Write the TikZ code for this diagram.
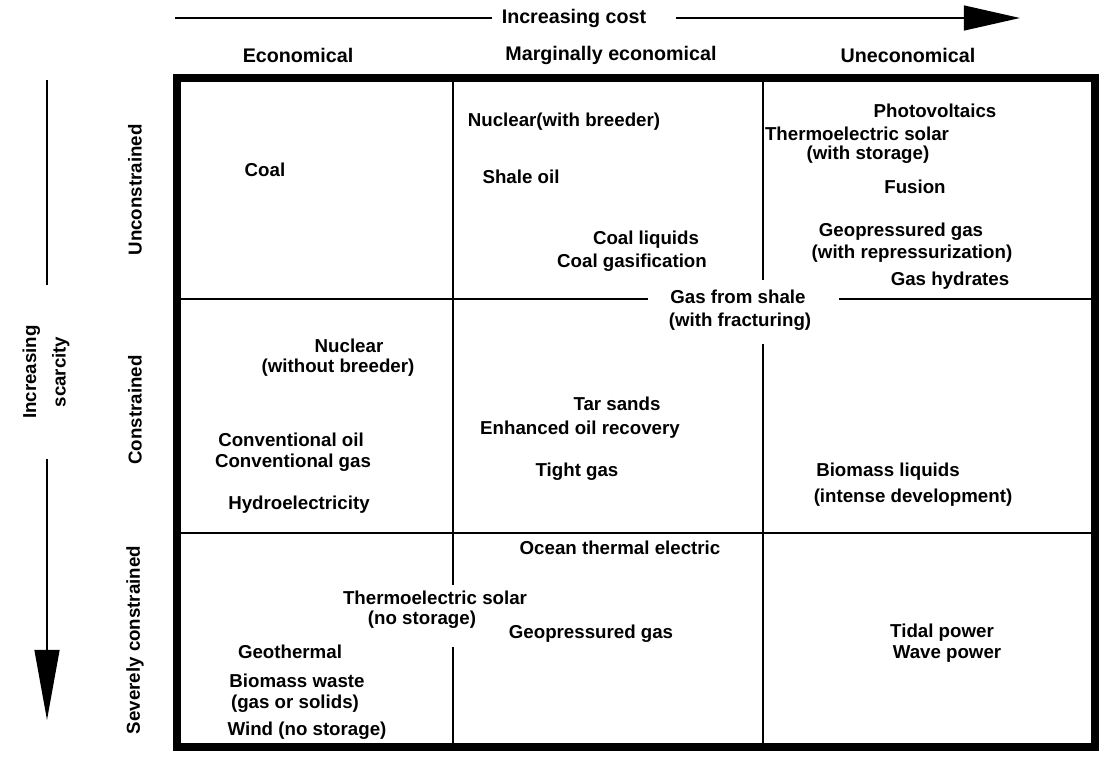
\documentclass[tikz,border=0pt]{standalone}
\usepackage{fontspec}
\setmainfont{Liberation Sans}
\usetikzlibrary{calc,arrows.meta}

\begin{document}
\begin{tikzpicture}[x=0.025cm,y=-0.025cm]
  \tikzstyle{t}=[font=\bfseries\fontsize{13.3}{15}\selectfont,inner sep=0pt]
  \tikzstyle{hd}=[font=\bfseries\fontsize{14}{16}\selectfont,inner sep=0pt]
  \tikzstyle{grid}=[line width=1.3pt]
  \useasboundingbox (0,0) rectangle (1100,759);
  % Sommets (tableau)
  \coordinate (BL) at (177,747);   % bottom-left
  \coordinate (TL) at (177,78);    % top-left
  \coordinate (BR) at (1095,747);  % bottom-right
  \coordinate (TR) at (1095,78);   % top-right
  \coordinate (C1) at (453,78);    % colonne 1
  \coordinate (C2) at (763,78);    % colonne 2
  \coordinate (R1) at (177,299);   % ligne 1
  \coordinate (R2) at (177,533);   % ligne 2
  % Axes
  \coordinate (costL) at (175,18);
  \coordinate (costR) at (1020,18);
  \coordinate (scT) at (47,80);
  \coordinate (scB) at (47,720);
  \node[hd] (cost) at (574,18) {Increasing cost};
  \node[t,rotate=90,align=center] (scarce) at (46,372) {Increasing\\[6pt]scarcity};
  \draw[line width=1.3pt] (costL) -- ($(cost.west)+(-10,0)$);
  \draw[line width=1.3pt,-{Triangle[length=1.4cm,width=0.62cm]}] ($(cost.east)+(30,0)$) -- (costR);
  \draw[line width=1.3pt] (scT) -- ($(scT |- scarce.east)+(0,-40)$);
  \draw[line width=1.3pt,-{Triangle[length=1.75cm,width=0.62cm]}] ($(scT |- scarce.west)+(0,40)$) -- (scB);
  % En-tetes
  \node[hd] (econ) at (298,55) {Economical};
  \node[hd] (marg) at (611,55) {Marginally economical};
  \node[hd] (unec) at (908,55) {Uneconomical};
  \node[t,rotate=90] (uncon) at (135,190) {Unconstrained};
  \node[t,rotate=90] (con) at (135,410) {Constrained};
  \node[t,rotate=90] (sev) at (135,640) {Severely constrained};
  % Ligne 1
  \node[t] (coal) at (265,170) {Coal};
  \node[t] (nucwb) at (564,122) {Nuclear(with breeder)};
  \node[t] (shale) at (521,177) {Shale oil};
  \node[t] (cliq) at (646,240) {Coal liquids};
  \node[t] (cgas) at (632,263) {Coal gasification};
  \node[t] (pv) at (935,111) {Photovoltaics};
  \node[t] (tsolA) at (857,134) {Thermoelectric solar};
  \node[t] (tsolB) at (868,155) {(with storage)};
  \node[t] (fus) at (915,187) {Fusion};
  \node[t] (geoA) at (901,232) {Geopressured gas};
  \node[t] (geoB) at (912,254) {(with repressurization)};
  \node[t] (hyd) at (950,281) {Gas hydrates};
  \node[t] (gasA) at (738,297) {Gas from shale};
  \node[t] (gasB) at (740,322) {(with fracturing)};
  % Ligne 2
  \node[t] (nucA) at (349,346) {Nuclear};
  \node[t] (nucB) at (338,368) {(without breeder)};
  \node[t] (tar) at (617,404) {Tar sands};
  \node[t] (eor) at (580,430) {Enhanced oil recovery};
  \node[t] (coil) at (291,440) {Conventional oil};
  \node[t] (cgas2) at (293,463) {Conventional gas};
  \node[t] (tight) at (577,472) {Tight gas};
  \node[t] (hydro) at (299,505) {Hydroelectricity};
  \node[t] (bioA) at (888,472) {Biomass liquids};
  \node[t] (bioB) at (913,498) {(intense development)};
  % Ligne 3
  \node[t] (otec) at (620,548) {Ocean thermal electric};
  \node[t] (tsA) at (435,598) {Thermoelectric solar};
  \node[t] (tsB) at (422,620) {(no storage)};
  \node[t] (geo) at (591,634) {Geopressured gas};
  \node[t] (tidal) at (942,633) {Tidal power};
  \node[t] (wave) at (947,654) {Wave power};
  \node[t] (geoth) at (290,652) {Geothermal};
  \node[t] (bwA) at (297,681) {Biomass waste};
  \node[t] (bwB) at (295,704) {(gas or solids)};
  \node[t] (wind) at (307,731) {Wind (no storage)};
  % Grille
  \draw[grid] (C1) -- ($(C1 |- tsA.north)+(0,-6)$);
  \draw[grid] ($(C1 |- tsB.south)+(0,18)$) -- (C1 |- BL);
  \draw[grid] (C2) -- ($(C2 |- gasA.north)+(0,-10)$);
  \draw[grid] ($(C2 |- gasB.south)+(0,13)$) -- (C2 |- BL);
  \draw[grid] (R1) -- ($(R1 -| gasA.west)+(-22,0)$);
  \draw[grid] ($(R1 -| gasB.east)+(28,0)$) -- (R1 -| BR);
  \draw[grid] (R2) -- (R2 -| BR);
  % Bord
  \draw[line width=5pt] (BL)--(TL)--(TR)--(BR)--cycle;
\end{tikzpicture}
\end{document}
